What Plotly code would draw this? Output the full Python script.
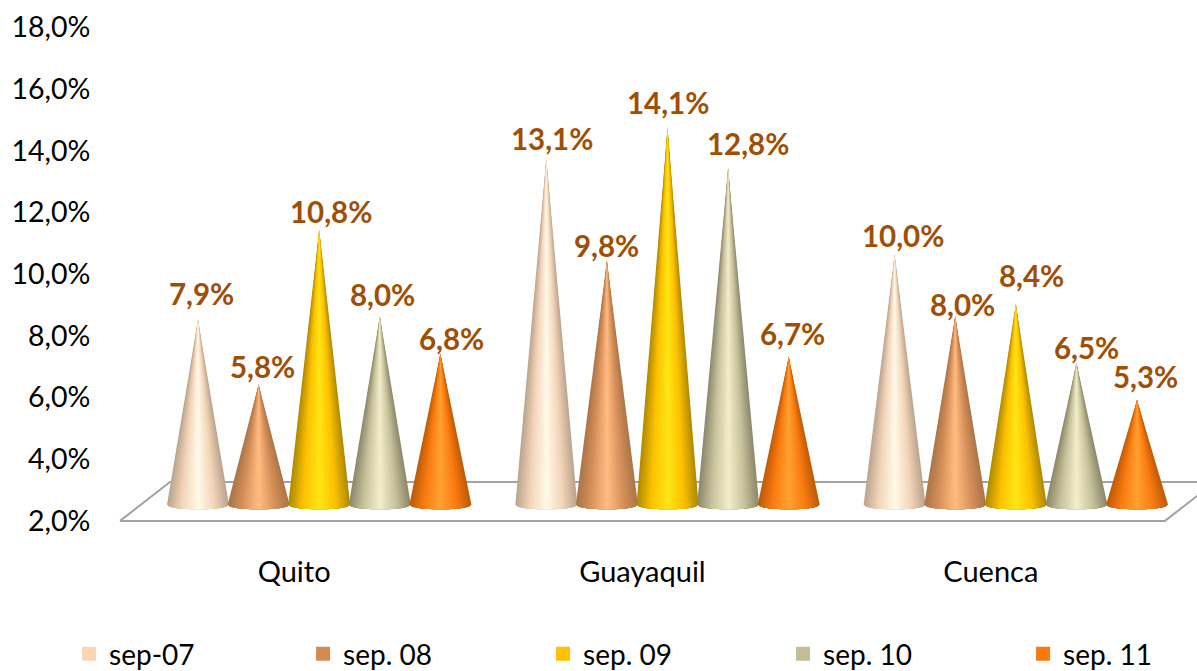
import plotly.graph_objects as go

# ---- data ----
categories = ["Quito", "Guayaquil", "Cuenca"]
series_names = ["sep-07", "sep. 08", "sep. 09", "sep. 10", "sep. 11"]
sep_07 = [7.9, 13.1, 10.0]
sep_08 = [5.8, 9.8, 8.0]
sep_09 = [10.8, 14.1, 8.4]
sep_10 = [8.0, 12.8, 6.5]
sep_11 = [6.8, 6.7, 5.3]
y_ticks = [2, 4, 6, 8, 10, 12, 14, 16, 18]
y_tick_labels = ["2,0%", "4,0%", "6,0%", "8,0%", "10,0%", "12,0%", "14,0%", "16,0%", "18,0%"]

# ---- styling ----
legend_colors = ["#FCD5B5", "#D38B52", "#FFC000", "#C4BD97", "#F97B10"]
legend_widths = [189, 195, 195, 195, None]
gradients = [
    ["#BFA68F", "#F2D3B8", "#FFF8E6"],
    ["#AD7748", "#D68F5A", "#FFBA80"],
    ["#B38C00", "#FBBF00", "#FFE414"],
    ["#8F8B6C", "#C6C09B", "#F1EBC8"],
    ["#C25C06", "#F97A10", "#FFA030"],
]
label_color = "#A14E05"
FONT = "Lato"
# manual label nudges in pixels relative to the cone tip (one row per series)
label_dx = [[4, 6, 8], [4, 0, 7], [12, 0, 16], [3, 20, 10], [11, 4, 8]]
label_dy = [[26, 21, 19], [18, 16, 12], [19, 26, 29], [22, 25, 15], [15, 23, 23]]

# 3-D look of the original chart, in axis units
depth_x, depth_y = 0.1435, 1.26
tip_lift = 0.62
base_y = 2.52
cone_rx, cone_ry = 0.089, 0.146
group_start, cone_step = 0.2239, 0.174
N = 16


def hex2rgb(h):
    return tuple(int(h[i:i + 2], 16) for i in (1, 3, 5))


def shade(stops, t):
    # t = 0 at the silhouette edge, 1 at the centre highlight
    a, b, c = map(hex2rgb, stops)
    if t < 0.45:
        f = t / 0.45
        p, q = a, b
    else:
        f = (t - 0.45) / 0.55
        p, q = b, c
    return "rgb(%d,%d,%d)" % tuple(round(p[i] + (q[i] - p[i]) * f) for i in range(3))


fig = go.Figure()

# floor of the 3-D plot
fig.add_trace(go.Scatter(
    x=[0, 3, 3 + depth_x, depth_x, 0],
    y=[2, 2, 2 + depth_y, 2 + depth_y, 2],
    mode="lines", line=dict(color="#A3A3A3", width=2),
    showlegend=False, hoverinfo="skip"))

values = [sep_07, sep_08, sep_09, sep_10, sep_11]
annotations = []
for g in range(len(categories)):
    for s, series in enumerate(values):
        cx = g + group_start + s * cone_step
        tip = series[g] + tip_lift
        # nested cones from the dark silhouette to the bright centre
        for i in range(N):
            a = 1 - i / N
            us = [-a + 2 * a * k / 24 for k in range(25)]
            xs = [cx] + [cx + cone_rx * u for u in us] + [cx]
            ys = [tip] + [base_y - cone_ry * max(0, 1 - u * u) ** 0.5 for u in us] + [tip]
            col = shade(gradients[s], i / (N - 1))
            fig.add_trace(go.Scatter(
                x=xs, y=ys, mode="lines", fill="toself", fillcolor=col,
                line=dict(width=0),
                showlegend=False, hoverinfo="skip"))
        annotations.append(dict(
            x=cx, y=tip, xref="x", yref="y", showarrow=False,
            text=("%.1f%%" % series[g]).replace(".", ","),
            xshift=label_dx[s][g], yshift=label_dy[s][g],
            xanchor="center", yanchor="middle",
            font=dict(family=FONT, size=29.5, color=label_color, weight="bold")))

# legend entries
for name, col, lw in zip(series_names, legend_colors, legend_widths):
    fig.add_trace(go.Scatter(
        x=[None], y=[None], mode="markers", name=name,
        legendwidth=lw,
        marker=dict(symbol="square", size=18, color=col, line=dict(color=col, width=4))))

fig.update_layout(
    width=1197, height=671,
    margin=dict(l=0, r=0, t=24, b=147, autoexpand=False),
    paper_bgcolor="white", plot_bgcolor="white",
    font=dict(family=FONT, size=29, color="#000000"),
    xaxis=dict(range=[-120 / 348.33, 3.092], showgrid=False, zeroline=False, showline=False,
               tickmode="array", tickvals=[0.5, 1.5, 2.5], ticktext=categories,
               ticks="outside", ticklen=22, tickcolor="rgba(0,0,0,0)",
               tickfont=dict(family=FONT, size=29)),
    yaxis=dict(range=[1.9, 18.1], showgrid=False, zeroline=False, showline=False,
               anchor="free", position=113 / 1197,
               tickmode="array", tickvals=y_ticks, ticktext=y_tick_labels,
               ticks="outside", ticklen=17, tickcolor="rgba(0,0,0,0)",
               tickfont=dict(family=FONT, size=28.5)),
    legend=dict(orientation="h", xref="container", yref="container",
                x=0.0577, y=0.0626, xanchor="left", yanchor="top",
                itemsizing="constant", font=dict(family=FONT, size=28),
                traceorder="normal", bgcolor="rgba(0,0,0,0)"),
    annotations=annotations,
    hovermode=False,
)
fig.write_html("out.html", config={"displayModeBar": False},
               post_script="document.body.style.margin='0';document.body.style.overflow='hidden';")
